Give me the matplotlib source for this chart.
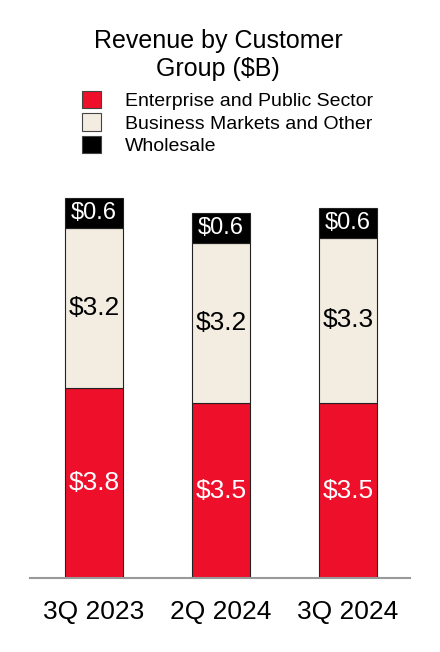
import numpy as np
import matplotlib.pyplot as plt
from matplotlib.patches import Patch

plt.rcParams['font.family'] = ['Liberation Sans', 'DejaVu Sans']

# data ($B)
quarters = ["3Q 2023", "2Q 2024", "3Q 2024"]
enterprise = [3.8, 3.5, 3.5]
business = [3.2, 3.2, 3.3]
wholesale = [0.6, 0.6, 0.6]
series_names = ["Enterprise and Public Sector", "Business Markets and Other", "Wholesale"]

red = "#EE0F2A"
beige = "#F3EDE1"
black = "#000000"

fig = plt.figure(figsize=(4.4, 6.52), dpi=100)
ax = fig.add_axes([30 / 440, 74 / 652, 380 / 440, 388 / 652])

x = np.arange(len(quarters))
w = 0.45
edge = dict(edgecolor="#222222", linewidth=0.8)
ax.bar(x, enterprise, w, color=red, **edge)
ax.bar(x, business, w, bottom=enterprise, color=beige, **edge)
bottom3 = np.array(enterprise) + np.array(business)
ax.bar(x, wholesale, w, bottom=bottom3, color=black, **edge)

for i in range(len(x)):
    ax.text(x[i], enterprise[i] / 2, f"${enterprise[i]:.1f}", ha="center", va="center",
            color="white", fontsize=19)
    ax.text(x[i], enterprise[i] + business[i] / 2, f"${business[i]:.1f}", ha="center",
            va="center", color="black", fontsize=19)
    ax.text(x[i], bottom3[i] + wholesale[i] / 2, f"${wholesale[i]:.1f}", ha="center",
            va="center", color="white", fontsize=17)

ax.set_xlim(-0.504, 2.488)
ax.set_ylim(0, 7.76)
ax.set_xticks(x)
ax.set_xticklabels(quarters, fontsize=19)
ax.tick_params(axis="x", length=0, pad=16)
ax.set_yticks([])
for s in ["top", "right", "left"]:
    ax.spines[s].set_visible(False)
ax.spines["bottom"].set_color("#999999")
ax.spines["bottom"].set_linewidth(1.5)

fig.text(218 / 440, 1 - 55 / 652, "Revenue by Customer\nGroup ($B)", ha="center",
         va="center", fontsize=18, linespacing=1.2)

handles = [Patch(facecolor=c, edgecolor="#444444", linewidth=0.8) for c in [red, beige, black]]
fig.legend(handles, series_names, loc="upper left", bbox_to_anchor=(82 / 440, 1 - 91 / 652),
           frameon=False, fontsize=14, handlelength=1.0, handleheight=1.0,
           handletextpad=1.2, labelspacing=0.15, borderpad=0, borderaxespad=0)

fig.savefig("out.png", dpi=100)
